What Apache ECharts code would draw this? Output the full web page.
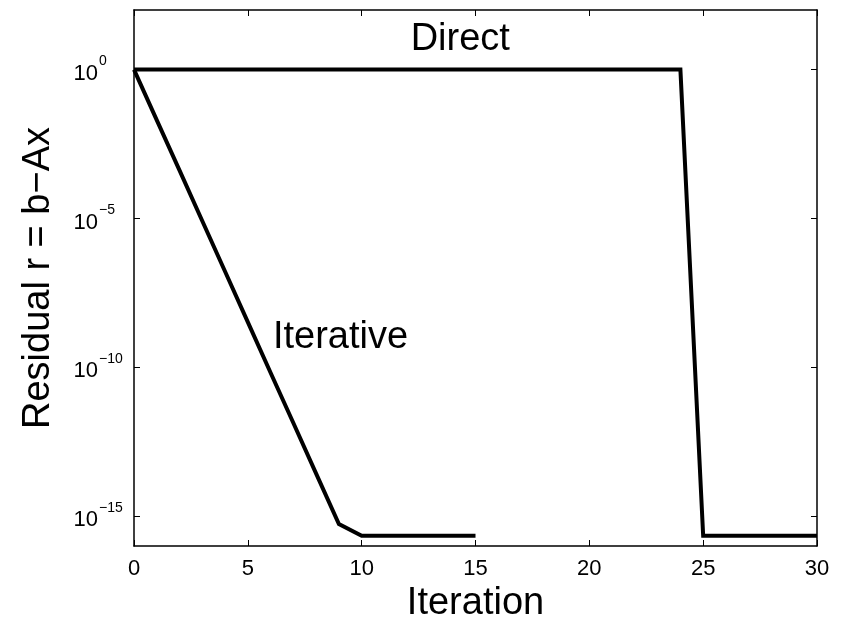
<!DOCTYPE html>
<html><head><meta charset="utf-8">
<script src="https://cdn.jsdelivr.net/npm/echarts@6/dist/echarts.min.js"></script>
<style>html,body{margin:0;padding:0;background:#fff}#c{width:844px;height:618px}</style>
</head><body><div id="c"></div>
<script>
// ---- data ----
const iterDirect = [0,1,2,3,4,5,6,7,8,9,10,11,12,13,14,15,16,17,18,19,20,21,22,23,24,25,26,27,28,29,30];
const residualDirect = [1,1,1,1,1,1,1,1,1,1,1,1,1,1,1,1,1,1,1,1,1,1,1,1,1,2.2e-16,2.2e-16,2.2e-16,2.2e-16,2.2e-16,2.2e-16];
const iterIterative = [0,1,2,3,4,5,6,7,8,9,10,11,12,13,14,15];
const residualIterative = [1,2.0e-2,4.1e-4,8.2e-6,1.65e-7,3.3e-9,6.6e-11,1.35e-12,2.7e-14,5.5e-16,2.2e-16,2.2e-16,2.2e-16,2.2e-16,2.2e-16,2.2e-16];
const yTickValues = [1e-15, 1e-10, 1e-5, 1];
const xTickStep = 5;
const xRange = [0, 30];
const yRange = [1e-16, 1e2];
const labelDirect = {text: 'Direct', at: [14.33, 10]};
const labelIterative = {text: 'Iterative', at: [6.1, 1e-9]};

const FONT = '"Liberation Sans", Arial, Helvetica, sans-serif';
const pairs = (xs, ys) => xs.map((x, i) => [x, ys[i]]);

const chart = echarts.init(document.getElementById('c'), null, {renderer: 'canvas'});
const axisLine = {show: true, onZero: false, lineStyle: {color: '#000', width: 1.5}};
const tick = {show: true, inside: true, length: 6, lineStyle: {color: '#000', width: 1}};
const expFmt = v => {
  const e = Math.round(Math.log10(v));
  return '{b|10}{s|' + (e < 0 ? '\u2212' + (-e) : String(e)) + '}';
};
const rich = {
  b: {fontSize: 22, fontFamily: FONT, color: '#000', lineHeight: 30, verticalAlign: 'bottom', align: 'left'},
  s: {fontSize: 14, fontFamily: FONT, color: '#000', lineHeight: 8, verticalAlign: 'top', width: 29, align: 'left', padding: [0, 0, 0, 1]}
};

chart.setOption({
  animation: false,
  backgroundColor: '#fff',
  grid: {left: 134, right: 27, top: 10, bottom: 72, containLabel: false, outerBoundsMode: 'none'},
  xAxis: [
    {type: 'value', min: xRange[0], max: xRange[1], interval: xTickStep, position: 'bottom',
     axisLine, axisTick: tick, splitLine: {show: false},
     axisLabel: {color: '#000', fontSize: 22, fontFamily: FONT, margin: 12},
     name: 'Iteration', nameLocation: 'middle', nameGap: 39, nameMoveOverlap: false,
     nameTextStyle: {color: '#000', fontSize: 38, fontFamily: FONT}},
    {type: 'value', min: xRange[0], max: xRange[1], interval: xTickStep, position: 'top',
     axisLine, axisTick: tick, splitLine: {show: false}, axisLabel: {show: false}}
  ],
  yAxis: [
    {type: 'log', min: yRange[0], max: yRange[1], position: 'left',
     axisLine, axisTick: Object.assign({}, tick, {customValues: yTickValues}),
     minorTick: {show: false}, splitLine: {show: false},
     axisLabel: {customValues: yTickValues, formatter: expFmt, rich, margin: 6},
     name: 'Residual r = b\u2212Ax', nameLocation: 'middle', nameGap: 76, nameMoveOverlap: false,
     nameTextStyle: {color: '#000', fontSize: 38, fontFamily: FONT}},
    {type: 'log', min: yRange[0], max: yRange[1], position: 'right',
     axisLine, axisTick: Object.assign({}, tick, {customValues: yTickValues}),
     splitLine: {show: false}, axisLabel: {show: false}}
  ],
  series: [
    {type: 'line', name: 'Direct', xAxisIndex: 0, yAxisIndex: 0, data: pairs(iterDirect, residualDirect),
     showSymbol: false, symbol: 'none', lineStyle: {color: '#000', width: 4, join: 'miter'}, clip: false},
    {type: 'line', name: 'Iterative', xAxisIndex: 0, yAxisIndex: 0, data: pairs(iterIterative, residualIterative),
     showSymbol: false, symbol: 'none', lineStyle: {color: '#000', width: 4, join: 'miter'}, clip: false}
  ]
});

const pd = chart.convertToPixel({xAxisIndex: 0, yAxisIndex: 0}, labelDirect.at);
const pi = chart.convertToPixel({xAxisIndex: 0, yAxisIndex: 0}, labelIterative.at);
chart.setOption({
  graphic: [
    {type: 'text', x: pd[0], y: pd[1], style: {text: labelDirect.text, fontSize: 38, fontFamily: FONT, fill: '#000', align: 'center', verticalAlign: 'middle'}},
    {type: 'text', x: pi[0], y: pi[1], style: {text: labelIterative.text, fontSize: 38, fontFamily: FONT, fill: '#000', align: 'left', verticalAlign: 'middle'}}
  ]
});
</script></body></html>
